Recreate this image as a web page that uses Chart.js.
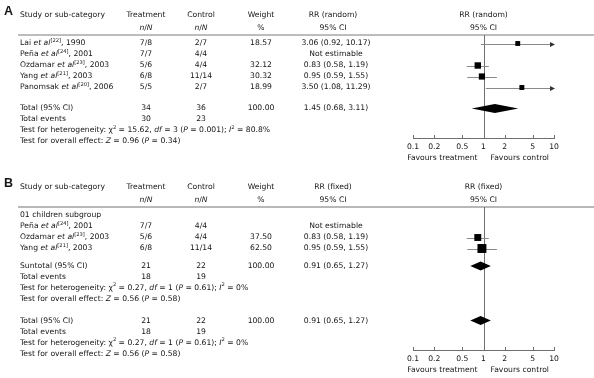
<!DOCTYPE html>
<html lang="en">
<head>
<meta charset="UTF-8">
<title>Forest plot</title>
<script src="https://cdn.jsdelivr.net/npm/chart.js@4.4.0/dist/chart.umd.min.js"></script>
<style>
    html, body { margin: 0; padding: 0; background: #fff; }
    .panel { position: absolute; left: 0; width: 594px; }
    #wrapA { top: 0; height: 170px; }
    #wrapB { top: 170px; height: 208px; }
</style>
</head>
<body>
<div class="panel" id="wrapA"><canvas id="chartA"></canvas></div>
<div class="panel" id="wrapB"><canvas id="chartB"></canvas></div>
<script>
// ---- panel A : RR (random)
const studiesA = ['Lai *et al*^[22]^, 1990', 'Peña *et al*^[24]^, 2001', 'Ozdamar *et al*^[23]^, 2003',
    'Yang *et al*^[21]^, 2003', 'Panomsak *et al*^[20]^, 2006'];
const treatA = ['7/8', '7/7', '5/6', '6/8', '5/5'];
const controlA = ['2/7', '4/4', '4/4', '11/14', '2/7'];
const weightA = [18.57, null, 32.12, 30.32, 18.99];
const rrA = [3.06, null, 0.83, 0.95, 3.50];
const lowA = [0.92, null, 0.58, 0.59, 1.08];
const highA = [10.17, null, 1.19, 1.55, 11.29];
const totalA = [1.45, 0.68, 3.11];      // RR, low, high
const totalNA = [34, 36];
const eventsA = [30, 23];
const hetA = 'Test for heterogeneity: χ^2^ = 15.62, *df* = 3 (*P* = 0.001); *I*^2^ = 80.8%';
const effectA = 'Test for overall effect: *Z* = 0.96 (*P* = 0.34)';

// ---- panel B : RR (fixed)
const subgroupB = '01 children subgroup';
const studiesB = ['Peña *et al*^[24]^, 2001', 'Ozdamar *et al*^[23]^, 2003', 'Yang *et al*^[21]^, 2003'];
const treatB = ['7/7', '5/6', '6/8'];
const controlB = ['4/4', '4/4', '11/14'];
const weightB = [null, 37.50, 62.50];
const rrB = [null, 0.83, 0.95];
const lowB = [null, 0.58, 0.59];
const highB = [null, 1.19, 1.55];
const subtotalB = [0.91, 0.65, 1.27];
const subtotalNB = [21, 22];
const subEventsB = [18, 19];
const totalB = [0.91, 0.65, 1.27];
const totalNB = [21, 22];
const eventsB = [18, 19];
const hetB = 'Test for heterogeneity: χ^2^ = 0.27, *df* = 1 (*P* = 0.61); *I*^2^ = 0%';
const effectB = 'Test for overall effect: *Z* = 0.56 (*P* = 0.58)';

const axisTicks = [0.1, 0.2, 0.5, 1, 2, 5, 10];

const FAMILY = '"DejaVu Sans", Verdana, sans-serif';
const FS = 7.65;
const PITCH = 11; // px per table row

// text with *italic* and ^superscript^ pieces
function richText(ctx, str, x, y, align) {
    const parts = [];
    str.split(/(\*[^*]+\*|\^[^^]+\^)/).forEach(s => {
        if (!s) return;
        if (s[0] === '*') parts.push({ t: s.slice(1, -1), it: true });
        else if (s[0] === '^') parts.push({ t: s.slice(1, -1), sup: true });
        else parts.push({ t: s });
    });
    const fontOf = p => (p.it ? 'italic ' : '') + (p.sup ? FS * 0.68 : FS) + 'px ' + FAMILY;
    let w = 0;
    parts.forEach(p => { ctx.font = fontOf(p); p.w = ctx.measureText(p.t).width; w += p.w; });
    let cx = align === 'center' ? x - w / 2 : align === 'right' ? x - w : x;
    ctx.textAlign = 'left';
    ctx.textBaseline = 'middle';
    parts.forEach(p => {
        ctx.font = fontOf(p);
        ctx.fillText(p.t, cx, p.sup ? y - FS * 0.42 : y);
        cx += p.w;
    });
}

const fmt = v => v == null ? '' : v.toFixed(2);
const ciText = (r, l, h) => r == null ? 'Not estimable' : fmt(r) + ' (' + fmt(l) + ', ' + fmt(h) + ')';

function makePanel(id, p) {
    // table rows (row units) for studies, summary lines
    const first = p.subgroup ? 1 : 0;
    const rows = p.studies.map((s, i) => first + i);
    const studyPts = [], sizes = [];
    p.rr.forEach((v, i) => {
        if (v == null) return;
        studyPts.push({ x: v, y: rows[i] });
        sizes.push(0.8 * Math.sqrt(p.weight[i]));
    });

    const plugin = {
        id: 'forest' + id,
        beforeDatasetsDraw(chart) {
            const { ctx, chartArea: a, scales: { x, y } } = chart;
            ctx.save();
            // header rule
            ctx.strokeStyle = p.ruleColor;
            ctx.lineWidth = p.ruleWidth;
            ctx.beginPath(); ctx.moveTo(18, a.top); ctx.lineTo(chart.width, a.top); ctx.stroke();
            // line of no effect
            ctx.lineWidth = 1;
            ctx.strokeStyle = '#6f6f6f';
            const x1 = Math.round(x.getPixelForValue(1)) + 0.5;
            ctx.beginPath(); ctx.moveTo(x1, a.top); ctx.lineTo(x1, a.bottom); ctx.stroke();
            // upward tick marks on the axis
            axisTicks.forEach(t => {
                const tx = Math.round(x.getPixelForValue(t)) + 0.5;
                ctx.beginPath(); ctx.moveTo(tx, a.bottom); ctx.lineTo(tx, a.bottom - 3); ctx.stroke();
            });
            // confidence intervals
            p.rr.forEach((v, i) => {
                if (v == null) return;
                const yy = Math.round(y.getPixelForValue(rows[i])) + 0.5;
                const xa = x.getPixelForValue(Math.max(p.low[i], x.min));
                const xb = x.getPixelForValue(Math.min(p.high[i], x.max));
                ctx.strokeStyle = '#8a8a8a';
                ctx.beginPath(); ctx.moveTo(xa, yy); ctx.lineTo(xb, yy); ctx.stroke();
                if (p.high[i] > x.max) {
                    ctx.fillStyle = '#333';
                    ctx.beginPath(); ctx.moveTo(xb + 1, yy); ctx.lineTo(xb - 4, yy - 2.5); ctx.lineTo(xb - 4, yy + 2.5);
                    ctx.closePath(); ctx.fill();
                }
            });
            // pooled diamonds
            p.summaries.forEach(s => {
                const yy = y.getPixelForValue(s.row);
                const xl = x.getPixelForValue(s.ci[1]), xm = x.getPixelForValue(s.ci[0]), xr = x.getPixelForValue(s.ci[2]);
                ctx.fillStyle = '#000';
                ctx.beginPath();
                ctx.moveTo(xl, yy); ctx.lineTo(xm, yy - 4.5); ctx.lineTo(xr, yy); ctx.lineTo(xm, yy + 4.5);
                ctx.closePath(); ctx.fill();
            });
            ctx.restore();
        },
        afterDraw(chart) {
            const { ctx, chartArea: a, scales: { x, y } } = chart;
            const ry = r => y.getPixelForValue(r);
            const cols = { treat: 146, control: 201, weight: 261, ci: 336 };
            const plotX = x.getPixelForValue(1);
            ctx.save();
            ctx.fillStyle = '#151515';
            // panel letter
            ctx.font = 'bold 12.5px "Liberation Sans", Arial, sans-serif';
            ctx.textAlign = 'left'; ctx.textBaseline = 'middle';
            ctx.fillText(p.letter, 4, a.top - 23);
            // headers
            const h1 = a.top - 20, h2 = a.top - 7;
            richText(ctx, 'Study or sub-category', 20, h1, 'left');
            richText(ctx, 'Treatment', cols.treat, h1, 'center');
            richText(ctx, 'Control', cols.control, h1, 'center');
            richText(ctx, 'Weight', cols.weight, h1, 'center');
            richText(ctx, p.measure, cols.ci - 3, h1, 'center');
            richText(ctx, p.measure, plotX, h1, 'center');
            richText(ctx, '*n*/*N*', cols.treat, h2, 'center');
            richText(ctx, '*n*/*N*', cols.control, h2, 'center');
            richText(ctx, '%', cols.weight, h2, 'center');
            richText(ctx, '95% CI', cols.ci - 3, h2, 'center');
            richText(ctx, '95% CI', plotX, h2, 'center');
            // study rows
            if (p.subgroup) richText(ctx, p.subgroup, 20, ry(0), 'left');
            p.studies.forEach((s, i) => {
                const yy = ry(rows[i]);
                richText(ctx, s, 20, yy, 'left');
                richText(ctx, p.treat[i], cols.treat, yy, 'center');
                richText(ctx, p.control[i], cols.control, yy, 'center');
                richText(ctx, fmt(p.weight[i]), cols.weight, yy, 'center');
                richText(ctx, ciText(p.rr[i], p.low[i], p.high[i]), cols.ci, yy, 'center');
            });
            // summary blocks
            p.summaries.forEach(s => {
                let yy = ry(s.row);
                richText(ctx, s.label, 20, yy, 'left');
                richText(ctx, String(s.n[0]), cols.treat, yy, 'center');
                richText(ctx, String(s.n[1]), cols.control, yy, 'center');
                richText(ctx, '100.00', cols.weight, yy, 'center');
                richText(ctx, ciText(s.ci[0], s.ci[1], s.ci[2]), cols.ci, yy, 'center');
                yy = ry(s.row + 1);
                richText(ctx, 'Total events', 20, yy, 'left');
                richText(ctx, String(s.events[0]), cols.treat, yy, 'center');
                richText(ctx, String(s.events[1]), cols.control, yy, 'center');
                richText(ctx, s.het, 20, ry(s.row + 2), 'left');
                richText(ctx, s.effect, 20, ry(s.row + 3), 'left');
            });
            // favours labels
            const fy = a.bottom + 20;
            richText(ctx, 'Favours treatment', plotX - 6, fy, 'right');
            richText(ctx, 'Favours control', plotX + 7, fy, 'left');
            ctx.restore();
        }
    };

    const areaH = p.areaBottom - p.areaTop;
    const yMin = -p.firstOffset / PITCH;

    return new Chart(document.getElementById(id), {
        type: 'scatter',
        data: {
            datasets: [{
                data: studyPts,
                pointStyle: 'rect',
                pointRadius: sizes,
                pointHoverRadius: sizes,
                backgroundColor: '#000',
                borderWidth: 0
            }]
        },
        options: {
            responsive: true,
            maintainAspectRatio: false,
            animation: false,
            events: [],
            layout: { padding: { left: 413, right: 40, top: p.areaTop, bottom: p.height - p.areaBottom - 20 } },
            plugins: { legend: { display: false }, tooltip: { enabled: false } },
            scales: {
                x: {
                    type: 'logarithmic',
                    min: 0.1,
                    max: 10,
                    afterBuildTicks: sc => { sc.ticks = axisTicks.map(v => ({ value: v })); },
                    afterFit: sc => { sc.height = 20; },
                    ticks: {
                        autoSkip: false,
                        maxRotation: 0,
                        padding: 4,
                        color: '#151515',
                        font: { family: FAMILY, size: 7.65 },
                        callback: v => String(v)
                    },
                    grid: { display: false, drawTicks: false },
                    border: { display: true, color: '#6f6f6f', width: 1 }
                },
                y: {
                    type: 'linear',
                    display: false,
                    reverse: true,
                    min: yMin,
                    max: yMin + areaH / PITCH
                }
            }
        },
        plugins: [plugin]
    });
}

makePanel('chartA', {
    letter: 'A', measure: 'RR (random)',
    studies: studiesA, treat: treatA, control: controlA, weight: weightA,
    rr: rrA, low: lowA, high: highA,
    summaries: [{ row: 5.9, label: 'Total (95% CI)', n: totalNA, ci: totalA, events: eventsA, het: hetA, effect: effectA }],
    height: 170, areaTop: 35, areaBottom: 138, firstOffset: 8.5,
    ruleColor: '#7a7a7a', ruleWidth: 1
});

makePanel('chartB', {
    letter: 'B', measure: 'RR (fixed)', subgroup: subgroupB,
    studies: studiesB, treat: treatB, control: controlB, weight: weightB,
    rr: rrB, low: lowB, high: highB,
    summaries: [
        { row: 4.6, label: 'Suntotal (95% CI)', n: subtotalNB, ci: subtotalB, events: subEventsB, het: hetB, effect: effectB },
        { row: 9.55, label: 'Total (95% CI)', n: totalNB, ci: totalB, events: eventsB, het: hetB, effect: effectB }
    ],
    height: 208, areaTop: 37, areaBottom: 180, firstOffset: 8.5,
    ruleColor: '#a0a0a0', ruleWidth: 1.5
});
</script>
</body>
</html>
